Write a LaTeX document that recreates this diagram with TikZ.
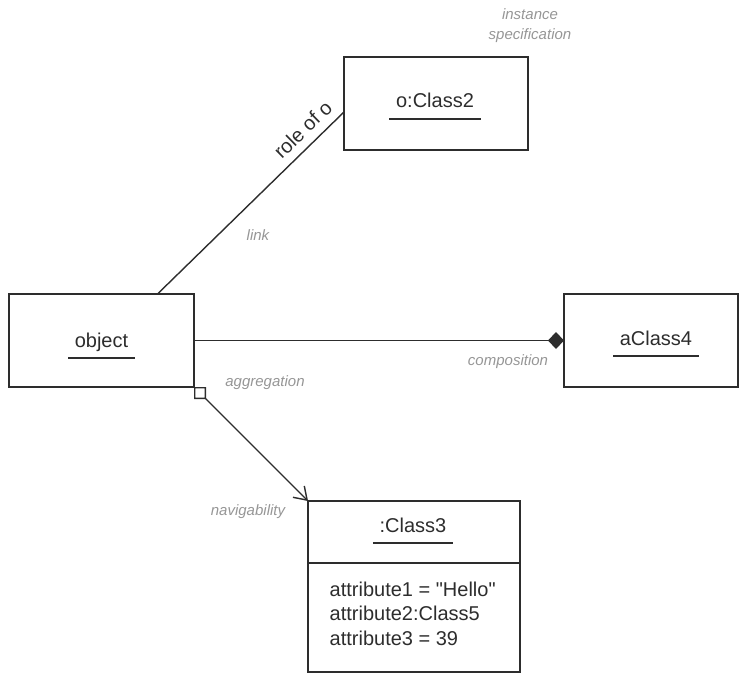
\documentclass[tikz,border=0pt]{standalone}
\usepackage{fontspec}
\setmainfont{Liberation Sans}
\usepackage{tikz}
\usetikzlibrary{arrows.meta,positioning}
\definecolor{umlink}{RGB}{45,45,45}
\definecolor{umlnote}{RGB}{150,150,150}
\newcommand{\bigtxt}{\fontsize{20}{24.5}\selectfont}
\newcommand{\notetxt}{\fontsize{15}{20}\selectfont\itshape}

\begin{document}
\begin{tikzpicture}[x=1pt,y=-1pt,line width=1.4pt,
  objbox/.style={draw=umlink,minimum width=185pt,minimum height=93pt,inner sep=0pt,outer sep=0pt},
  title/.style={inner sep=0pt,anchor=base,text=umlink,font=\bigtxt},
  note/.style={text=umlnote,font=\notetxt,align=center},
  assoc/.style={draw=umlink}]
  \useasboundingbox (0,0) rectangle (739,674);
  % instance boxes
  \node[objbox] (object) at (101.5,340.5) {};
  \node[objbox,minimum width=184pt] (oclass2) at (436,103.5) {};
  \node[objbox,minimum width=174pt] (aclass4) at (651,340.5) {};
  \node[objbox,minimum width=212pt,minimum height=62pt] (class3) at (414,532) {};
  \node[objbox,minimum width=212pt,minimum height=109pt,below=0pt of class3] (class3attr) {};
  % names (underlined below)
  \node[title] (object-t)  at (101.5,347) {object};
  \node[title] (oclass2-t) at (435,108) {o:Class2};
  \node[title] (aclass4-t) at (656,345) {aClass4};
  \node[title] (class3-t)  at (413,532) {:Class3};
  \foreach \t in {object-t,oclass2-t,aclass4-t,class3-t}
    \draw[umlink] ([xshift=-6pt,yshift=-11pt]\t.base west) -- ([xshift=6pt,yshift=-11pt]\t.base east);
  % base of the last line
  \node[inner sep=0pt,anchor=base west,align=left,text=umlink,font=\bigtxt] (attrs) at (329,645)
    {attribute1 = \textquotedbl Hello\textquotedbl\\attribute2:Class5\\attribute3 = 39};
  % link, composition, aggregation
  \draw[assoc] ([xshift=56pt]object.north) -- ([yshift=-8.5pt]oclass2.west)
    node[sloped,above=5pt,pos=0.84,text=umlink,font=\bigtxt] (role) {role of o};
  \draw[assoc,-{Diamond[length=16pt,width=17pt]}] (object.east) -- (aclass4.west);
  \draw[assoc,{Diamond[open,length=17pt,width=17pt,fill=white]}-{Straight Barb[length=12pt,width=16pt]}]
    (object.south east) -- (class3.north west);
  % grey annotations
  \node[note] (inst-n) at (530,26) {instance\\specification};
  \node[note] (link-n) at (258,235) {link};
  \node[note] (comp-n) at (508,362) {composition};
  \node[note] (aggr-n) at (265,383) {aggregation};
  \node[note] (navi-n) at (248,512) {navigability};
\end{tikzpicture}
\end{document}
